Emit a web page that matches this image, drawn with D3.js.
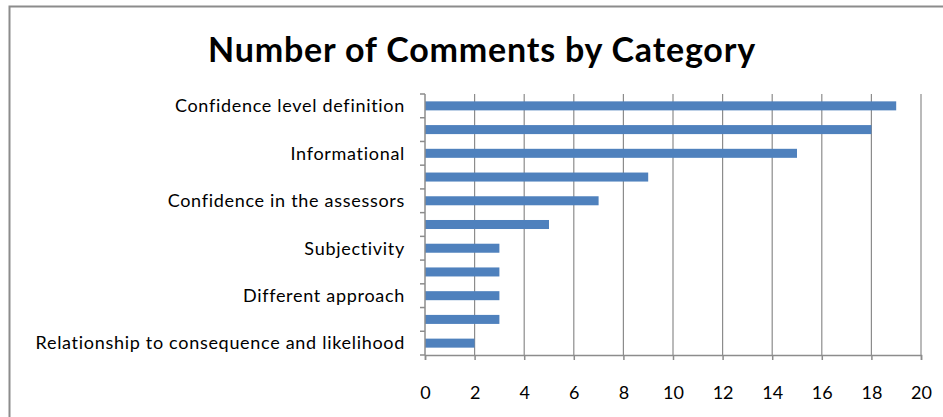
<!DOCTYPE html>
<html lang="en">
<head>
<meta charset="utf-8">
<title>Number of Comments by Category</title>
<script src="https://d3js.org/d3.v7.min.js"></script>
<style>
  body { margin: 0; background: #fff; }
  .cat text, .val text { font-family: Lato, sans-serif; font-size: 18px; fill: #000; }
  .cat text { letter-spacing: 0.7px; }
</style>
</head>
<body>
<div id="chart"></div>
<script>
// data, top to bottom (Excel only prints every other category name)
var labels = ["Confidence level definition", "", "Informational", "", "Confidence in the assessors", "",
              "Subjectivity", "", "Different approach", "", "Relationship to consequence and likelihood"];
var counts = [19, 18, 15, 9, 7, 5, 3, 3, 3, 3, 2];
var xTicks = [0, 2, 4, 6, 8, 10, 12, 14, 16, 18, 20];

var W = 943, H = 417;
var margin = {top: 94, right: 22, bottom: 62, left: 425};

var svg = d3.select("#chart").append("svg")
    .attr("width", W).attr("height", H);

// outer chart border
svg.append("rect")
    .attr("x", 9.5).attr("y", 6.5)
    .attr("width", W + 20).attr("height", H + 20)
    .attr("fill", "none").attr("stroke", "#8c8c8c").attr("stroke-width", 2);

svg.append("text")
    .attr("x", 482).attr("y", 62)
    .attr("text-anchor", "middle")
    .style("font-family", "Lato, sans-serif")
    .style("font-weight", "bold")
    .style("font-size", "34px")
    .style("letter-spacing", "0.8px")
    .text("Number of Comments by Category");

var x = d3.scaleLinear().domain([0, 20]).range([margin.left, W - margin.right]);
var idx = d3.range(counts.length);
var y = d3.scaleBand().domain(idx).range([margin.top, H - margin.bottom]).paddingInner(0.62).paddingOuter(0.31);

// vertical gridlines
svg.append("g").selectAll("line")
  .data(xTicks.slice(1))
  .enter().append("line")
    .attr("x1", function(d) { return x(d); })
    .attr("x2", function(d) { return x(d); })
    .attr("y1", margin.top).attr("y2", H - margin.bottom)
    .attr("stroke", "#8c8c8c").attr("stroke-width", 1.2);

// bars
svg.append("g").selectAll("rect")
  .data(idx)
  .enter().append("rect")
    .attr("x", x(0))
    .attr("y", function(i) { return y(i); })
    .attr("width", function(i) { return x(counts[i]) - x(0); })
    .attr("height", y.bandwidth())
    .attr("fill", "#4f81bd");

// x axis
var xAxis = svg.append("g")
    .attr("class", "val")
    .attr("transform", "translate(0," + (H - margin.bottom) + ")")
    .call(d3.axisBottom(x).tickValues(xTicks).tickSize(5).tickPadding(26));
xAxis.selectAll("line, path").attr("stroke", "#8c8c8c").attr("stroke-width", 1.5);

// category axis: ticks on band boundaries, labels on every other band
var yTop = margin.top, yBot = H - margin.bottom;
var bounds = d3.range(counts.length + 1).map(function(i) { return yTop + i * (yBot - yTop) / counts.length; });
var cat = svg.append("g").attr("class", "cat");
cat.append("line")
    .attr("x1", x(0)).attr("x2", x(0)).attr("y1", yTop).attr("y2", yBot)
    .attr("stroke", "#8c8c8c").attr("stroke-width", 1.5);
cat.selectAll("line.tk")
  .data(bounds)
  .enter().append("line")
    .attr("class", "tk")
    .attr("x1", x(0) - 5).attr("x2", x(0))
    .attr("y1", function(d) { return d; }).attr("y2", function(d) { return d; })
    .attr("stroke", "#8c8c8c").attr("stroke-width", 1.5);
cat.selectAll("text")
  .data(idx.filter(function(i) { return labels[i] !== ""; }))
  .enter().append("text")
    .attr("x", x(0) - 20)
    .attr("y", function(i) { return y(i) + y.bandwidth() / 2; })
    .attr("dy", "0.35em")
    .attr("text-anchor", "end")
    .text(function(i) { return labels[i]; });
</script>
</body>
</html>
